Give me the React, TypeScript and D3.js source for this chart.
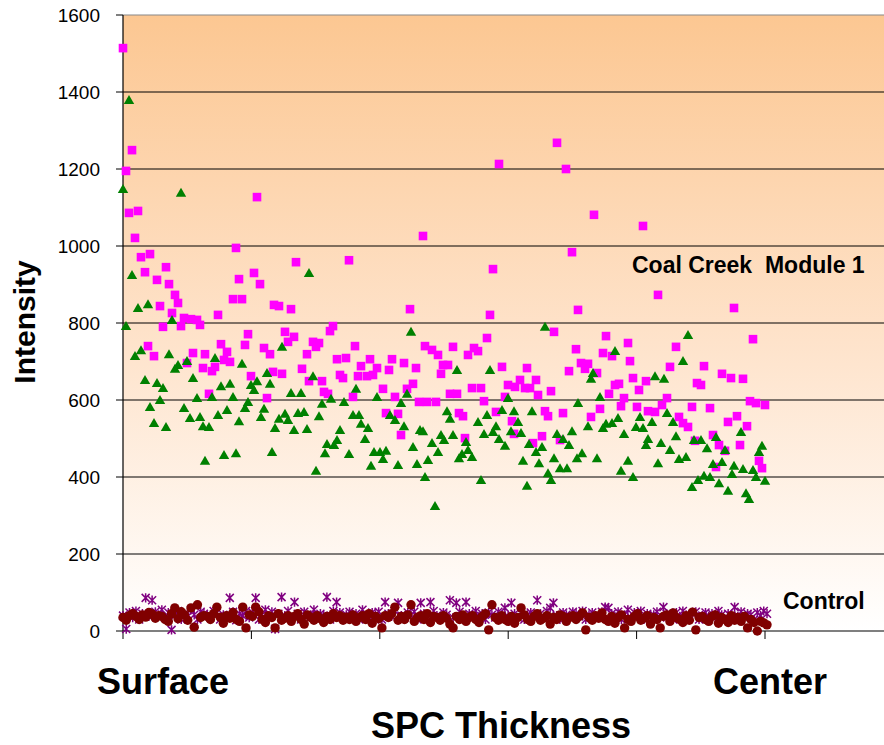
import * as d3 from 'd3'

type Pt = [number, number]

// x = position along the thickness (no units shown), y = intensity
const coalSquares: Pt[] = [
  [0, 1514], [3, 1195], [6, 1086], [9, 1249], [12, 1021], [15, 1091], [18, 971], [22, 932], [25, 740], [27, 979],
  [31, 714], [34, 912], [37, 844], [40, 790], [43, 945], [46, 901], [49, 826], [52, 873], [55, 852], [58, 792],
  [61, 813], [64, 696], [68, 810], [70, 722], [74, 808], [77, 795], [80, 683], [82, 719], [86, 616], [89, 675],
  [92, 686], [95, 821], [98, 745], [101, 704], [104, 725], [107, 699], [110, 862], [113, 995], [116, 914], [119, 862],
  [122, 743], [125, 771], [128, 662], [131, 930], [134, 1127], [137, 901], [141, 735], [144, 605], [147, 719], [150, 673],
  [151, 847], [156, 844], [159, 668], [162, 777], [165, 751], [168, 836], [171, 764], [173, 958], [179, 681], [184, 719],
  [186, 649], [190, 751], [193, 738], [196, 748], [199, 649], [201, 621], [205, 616], [207, 779], [210, 792], [214, 706],
  [217, 665], [220, 657], [223, 709], [226, 963], [230, 608], [232, 740], [235, 662], [238, 688], [244, 662], [247, 706],
  [250, 665], [254, 683], [260, 629], [263, 566], [266, 678], [269, 706], [272, 608], [275, 564], [278, 509], [281, 696],
  [284, 629], [287, 836], [290, 642], [293, 683], [296, 595], [300, 1026], [302, 740], [304, 595], [309, 730], [313, 595],
  [315, 717], [318, 668], [320, 691], [325, 691], [327, 616], [330, 738], [334, 616], [336, 566], [340, 558], [342, 501],
  [345, 717], [349, 631], [351, 735], [355, 727], [358, 631], [361, 597], [364, 761], [367, 821], [370, 940], [373, 569],
  [376, 1213], [379, 686], [382, 608], [385, 639], [389, 545], [391, 512], [392, 634], [397, 652], [402, 631], [404, 683],
  [407, 631], [410, 488], [413, 652], [415, 613], [419, 506], [422, 571], [425, 558], [428, 623], [431, 777], [434, 1268],
  [437, 496], [440, 566], [443, 1200], [446, 675], [449, 984], [453, 732], [455, 834], [458, 696], [462, 681], [465, 694],
  [468, 556], [471, 1081], [474, 670], [477, 577], [480, 722], [483, 766], [486, 616], [489, 714], [492, 639], [496, 642],
  [498, 584], [501, 605], [505, 748], [507, 701], [510, 657], [514, 582], [516, 626], [520, 1052], [523, 649], [525, 571],
  [532, 569], [535, 873], [539, 587], [544, 605], [547, 686], [553, 738], [556, 556], [560, 540], [565, 530], [569, 582],
  [572, 494], [574, 644], [578, 639], [581, 688], [587, 579], [590, 509], [593, 426], [596, 483], [599, 668], [602, 468],
  [605, 543], [608, 657], [611, 839], [614, 558], [617, 483], [620, 655], [624, 532], [627, 597], [630, 758], [633, 592],
  [636, 442], [639, 423], [642, 587],
]

const coalTriangles: Pt[] = [
  [0, 1148], [3, 792], [6, 1379], [9, 925], [12, 714], [15, 839], [18, 729], [22, 652], [25, 849], [27, 582],
  [31, 540], [34, 644], [37, 600], [40, 631], [43, 530], [46, 719], [49, 808], [52, 681], [55, 691], [58, 1138],
  [61, 579], [64, 701], [67, 553], [70, 657], [74, 605], [77, 556], [80, 532], [82, 442], [86, 530], [89, 608],
  [92, 709], [95, 561], [98, 636], [101, 457], [104, 574], [107, 642], [110, 608], [113, 462], [116, 545], [119, 694],
  [122, 579], [125, 595], [128, 639], [131, 626], [134, 649], [138, 556], [141, 577], [144, 670], [147, 642], [149, 465],
  [152, 527], [156, 551], [159, 738], [162, 564], [165, 548], [168, 618], [171, 522], [175, 566], [178, 618], [181, 569],
  [184, 525], [186, 930], [190, 662], [193, 416], [196, 558], [199, 590], [202, 462], [204, 486], [208, 603], [211, 483],
  [214, 496], [217, 522], [221, 595], [226, 460], [230, 561], [233, 629], [236, 561], [238, 538], [242, 499], [245, 527],
  [248, 429], [251, 465], [254, 608], [257, 465], [260, 447], [263, 468], [267, 561], [272, 548], [275, 431], [278, 592],
  [281, 532], [284, 616], [288, 777], [290, 478], [294, 434], [297, 522], [300, 519], [302, 400], [305, 444], [309, 488],
  [312, 325], [315, 465], [318, 509], [321, 496], [324, 571], [327, 551], [330, 509], [334, 678], [336, 449], [339, 460],
  [343, 491], [345, 470], [349, 452], [355, 543], [358, 392], [361, 512], [364, 561], [367, 678], [370, 517], [373, 532],
  [376, 499], [379, 574], [382, 481], [385, 605], [388, 519], [391, 571], [395, 543], [398, 514], [400, 442], [404, 377],
  [406, 486], [409, 571], [413, 465], [416, 436], [419, 478], [422, 790], [425, 410], [428, 392], [431, 449], [434, 512],
  [437, 423], [440, 499], [444, 423], [446, 483], [449, 519], [454, 449], [455, 592], [459, 462], [465, 532], [468, 655],
  [470, 670], [474, 449], [477, 608], [480, 527], [483, 538], [489, 540], [492, 727], [495, 553], [498, 416], [501, 512],
  [505, 442], [510, 400], [513, 530], [517, 556], [520, 527], [523, 483], [525, 499], [529, 543], [532, 662], [535, 436],
  [538, 488], [541, 655], [544, 566], [547, 470], [550, 543], [553, 506], [556, 447], [560, 701], [563, 452], [565, 769],
  [569, 374], [571, 496], [575, 392], [578, 496], [581, 403], [584, 475], [587, 400], [590, 434], [593, 504], [596, 384],
  [599, 439], [602, 470], [605, 364], [609, 408], [611, 429], [618, 517], [620, 421], [623, 358], [626, 343], [630, 418],
  [633, 400], [636, 465], [639, 481], [642, 390],
]

// control samples, evenly spaced from surface to center
const controlStars: number[] = [
  40, 5, 48, 35, 52, 30, 45, 86, 38, 80,
  50, 42, 55, 35, 48, 3, 40, 52, 30, 45,
  38, 55, 42, 30, 50, 45, 40, 35, 52, 48,
  30, 42, 38, 86, 50, 28, 45, 40, 52, 35,
  48, 86, 30, 42, 55, 38, 50, 5, 45, 88,
  40, 52, 35, 75, 45, 30, 50, 38, 42, 55,
  35, 45, 40, 88, 30, 52, 75, 48, 35, 42,
  50, 38, 45, 30, 55, 40, 35, 48, 42, 50,
  30, 75, 45, 38, 52, 73, 40, 35, 48, 42,
  50, 30, 73, 45, 38, 75, 52, 40, 35, 48,
  42, 80, 35, 73, 50, 30, 75, 45, 40, 52,
  38, 45, 30, 48, 42, 35, 50, 40, 60, 38,
  73, 45, 35, 50, 30, 42, 48, 38, 80, 45,
  35, 52, 60, 73, 40, 30, 48, 42, 35, 50,
  45, 38, 52, 30, 42, 48, 35, 40, 50, 62,
  60, 45, 38, 50, 30, 42, 55, 35, 48, 40,
  52, 30, 45, 38, 42, 50, 35, 62, 45, 40,
  30, 48, 38, 52, 42, 35, 45, 50, 30, 40,
  48, 38, 45, 35, 52, 42, 30, 45, 40, 62,
  38, 50, 35, 45, 42, 30, 48, 40, 52, 45,
]

const controlDots: number[] = [
  35, 28, 40, 45, 38, 30, 42, 36, 48, 44,
  33, 40, 38, 30, 25, 45, 60, 32, 50, 42,
  28, 60, 10, 68, 35, 40, 38, 30, 45, 62,
  36, 20, 40, 33, 48, 30, 25, 62, 8, 42,
  38, 62, 50, 30, 22, 40, 35, 8, 45, 28,
  33, 40, 25, 38, 45, 30, 18, 42, 35, 28,
  40, 32, 22, 38, 30, 45, 35, 40, 28, 36,
  30, 42, 25, 35, 40, 30, 45, 20, 38, 32,
  8, 40, 35, 45, 62, 28, 38, 30, 42, 68,
  25, 35, 40, 30, 45, 22, 38, 35, 28, 40,
  33, 18, 8, 38, 30, 42, 25, 35, 40, 30,
  22, 38, 45, 3, 68, 35, 28, 40, 30, 25,
  38, 20, 35, 60, 42, 30, 25, 38, 45, 28,
  33, 40, 18, 35, 30, 42, 38, 25, 35, 40,
  30, 38, 47, 3, 35, 28, 40, 33, 47, 30,
  25, 38, 20, 35, 42, 8, 30, 25, 38, 45,
  28, 33, 40, 18, 35, 30, 8, 38, 42, 25,
  47, 35, 30, 22, 40, 28, 49, 3, 35, 38,
  30, 25, 38, 42, 20, 35, 30, 22, 40, 28,
  35, 25, 38, 8, 30, 22, 0, 25, 21, 16,
]

const yTickValues = [0, 200, 400, 600, 800, 1000, 1200, 1400, 1600]
const xTickValues = [0, 128.4, 256.8, 385.2, 513.6, 642, 770.4]
const endLabels = ['Surface', 'Center']

const W = 884
const H = 745
const FONT = '"Liberation Sans", Arial, sans-serif'

export default function App() {
  const x = d3.scaleLinear().domain([0, 770.4]).range([123, 893.4])
  const y = d3.scaleLinear().domain([0, 1600]).range([631, 15])
  const ctrlStarPos = d3.scaleLinear().domain([0, controlStars.length - 1]).range([0, 644])
  const ctrlDotPos = d3.scaleLinear().domain([0, controlDots.length - 1]).range([0, 644])

  const sq = 8.6
  const triPath = 'M0,-5L5.2,4L-5.2,4Z'
  const starPath = 'M0,-4.6V4.6M-4,-4L4,4M-4,4L4,-4'

  return (
    <div style={{ position: 'fixed', left: 0, top: 0 }}>
      <svg width={W} height={H} style={{ display: 'block', background: '#fff', fontFamily: FONT }}>
        <defs>
          <linearGradient id="bg" x1="0" y1="0" x2="0" y2="1">
            <stop offset="0%" stopColor="#fcc792" />
            <stop offset="55%" stopColor="#fee4cd" />
            <stop offset="100%" stopColor="#ffffff" />
          </linearGradient>
        </defs>

        <rect x={x(0)} y={y(1600)} width={W - x(0)} height={y(0) - y(1600)} fill="url(#bg)" />

        {/* gridlines */}
        {yTickValues.filter(v => v > 0 && v < 1600).map(v => (
          <line key={v} x1={x(0)} x2={W} y1={y(v)} y2={y(v)} stroke="#000" strokeWidth={1} />
        ))}
        <line x1={x(0)} x2={W} y1={y(1600)} y2={y(1600)} stroke="#888" strokeWidth={1.2} />

        {/* axes */}
        <line x1={x(0)} x2={x(0)} y1={y(1600)} y2={y(0)} stroke="#000" strokeWidth={1.2} />
        <line x1={x(0)} x2={W} y1={y(0)} y2={y(0)} stroke="#000" strokeWidth={1.2} />
        {yTickValues.map(v => (
          <g key={v}>
            <line x1={x(0) - 7} x2={x(0)} y1={y(v)} y2={y(v)} stroke="#000" />
            <text x={100} y={y(v)} dy="0.35em" textAnchor="end" fontSize={19}>{v}</text>
          </g>
        ))}
        {xTickValues.map(v => (
          <line key={v} x1={x(v)} x2={x(v)} y1={y(0)} y2={y(0) + 8} stroke="#000" />
        ))}

        {/* series */}
        {coalSquares.map((d, i) => (
          <rect key={'s' + i} x={x(d[0]) - sq / 2} y={y(d[1]) - sq / 2} width={sq} height={sq} fill="#ff00ff" />
        ))}
        {coalTriangles.map((d, i) => (
          <path key={'t' + i} d={triPath} transform={`translate(${x(d[0])},${y(d[1])})`} fill="#008000" />
        ))}
        {controlStars.map((v, i) => (
          <path key={'a' + i} d={starPath} transform={`translate(${x(ctrlStarPos(i))},${y(v)})`}
            stroke="#800080" strokeWidth={1.5} fill="none" />
        ))}
        {controlDots.map((v, i) => (
          <circle key={'c' + i} cx={x(ctrlDotPos(i))} cy={y(v)} r={4.7} fill="#800000" />
        ))}

        {/* annotations */}
        <text x={632} y={273} fontSize={23} fontWeight="bold" style={{ whiteSpace: 'pre' }}>Coal Creek  Module 1</text>
        <text x={783} y={609} fontSize={23} fontWeight="bold">Control</text>

        <text x={163} y={694} fontSize={36} fontWeight="bold" textAnchor="middle">{endLabels[0]}</text>
        <text x={770} y={694} fontSize={36} fontWeight="bold" textAnchor="middle">{endLabels[1]}</text>
        <text x={501} y={738} fontSize={36} fontWeight="bold" textAnchor="middle">SPC Thickness</text>
        <text transform="translate(35,322) rotate(-90)" fontSize={30} fontWeight="bold" textAnchor="middle">Intensity</text>
      </svg>
    </div>
  )
}
